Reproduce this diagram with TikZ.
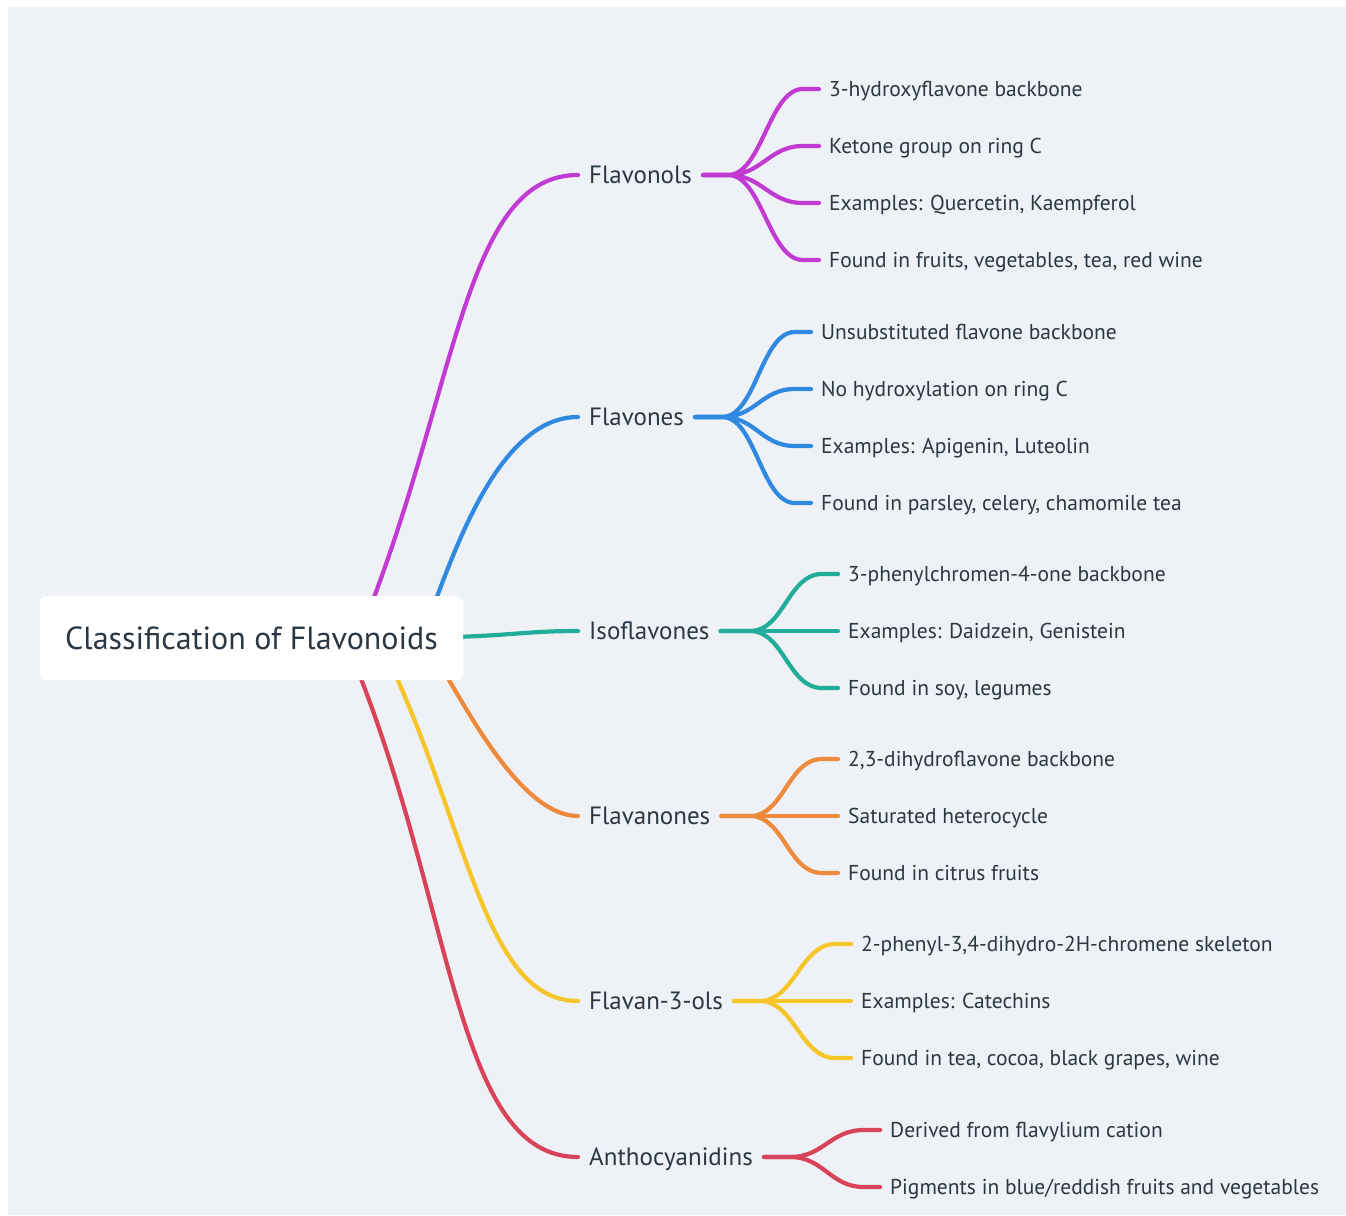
\documentclass[tikz,border=0pt]{standalone}
\usepackage{fontspec}
\setmainfont{PT Sans}
\pgfdeclarelayer{bottom}
\pgfdeclarelayer{lines}
\pgfsetlayers{bottom,lines,main}
\definecolor{bg}{HTML}{EEF2F6}
\definecolor{txt}{HTML}{2B3743}
\definecolor{cM}{HTML}{C13BD2}
\definecolor{cB}{HTML}{3089E0}
\definecolor{cT}{HTML}{20AE9A}
\definecolor{cO}{HTML}{EE8A3C}
\definecolor{cY}{HTML}{F6C52A}
\definecolor{cR}{HTML}{D9435A}
\begin{document}
\begin{tikzpicture}[x=1pt,y=-1pt,
  conn/.style={line width=4.2pt, line cap=round},
  rootbox/.style={fill=white, rounded corners=7pt, minimum width=423pt, minimum height=84pt, inner sep=0pt, text=txt, font=\fontsize{32}{36}\selectfont},
  branch/.style={anchor=west, inner xsep=11pt, inner ysep=0pt, text height=17.5pt, text depth=0pt, text=txt, font=\fontsize{25}{29}\selectfont},
  leaf/.style={anchor=west, inner xsep=10pt, inner ysep=0pt, text height=15pt, text depth=0pt, text=txt, font=\fontsize{21.5}{25}\selectfont},
  fan/.style={to path={-- (#1) .. controls +(34,0) and +(-34,0) .. ([xshift=-16pt]\tikztotarget.west) -- (\tikztotarget.west)}}
]
\useasboundingbox (0,0) rectangle (1346,1215);
\begin{pgfonlayer}{bottom}
\fill[white] (0,0) rectangle (1346,1215);
\fill[bg] (8,7) rectangle (1346,1215);
\end{pgfonlayer}

% root
\node[rootbox] (root) at (251.5,638) {Classification of Flavonoids};

% branches
\node[branch] (fA) at (578,175) {Flavonols};
\node[branch] (fB) at (578,417) {Flavones};
\node[branch] (fC) at (578,631) {Isoflavones};
\node[branch] (fD) at (578,816) {Flavanones};
\node[branch] (fE) at (578,1001) {Flavan-3-ols};
\node[branch] (fF) at (578,1157) {Anthocyanidins};

% leaves
\node[leaf] (a1) at (819,89) {3-hydroxyflavone backbone};
\node[leaf] (a2) at (819,146) {Ketone group on ring C};
\node[leaf] (a3) at (819,203) {Examples: Quercetin, Kaempferol};
\node[leaf] (a4) at (819,260) {Found in fruits, vegetables, tea, red wine};

\node[leaf] (b1) at (811,332) {Unsubstituted flavone backbone};
\node[leaf] (b2) at (811,389) {No hydroxylation on ring C};
\node[leaf] (b3) at (811,446) {Examples: Apigenin, Luteolin};
\node[leaf] (b4) at (811,503) {Found in parsley, celery, chamomile tea};

\node[leaf] (c1) at (838,574) {3-phenylchromen-4-one backbone};
\node[leaf] (c2) at (838,631) {Examples: Daidzein, Genistein};
\node[leaf] (c3) at (838,688) {Found in soy, legumes};

\node[leaf] (d1) at (838,759) {2,3-dihydroflavone backbone};
\node[leaf] (d2) at (838,816) {Saturated heterocycle};
\node[leaf] (d3) at (838,873) {Found in citrus fruits};

\node[leaf] (e1) at (851,944) {2-phenyl-3,4-dihydro-2H-chromene skeleton};
\node[leaf] (e2) at (851,1001) {Examples: Catechins};
\node[leaf] (e3) at (851,1058) {Found in tea, cocoa, black grapes, wine};

\node[leaf] (g1) at (880,1130) {Derived from flavylium cation};
\node[leaf] (g2) at (880,1187) {Pigments in blue/reddish fruits and vegetables};

% hidden start points (behind root box) and junctions
\coordinate (sA) at (373,600);
\coordinate (sB) at (435,602);
\coordinate (sC) at (455,637);
\coordinate (sD) at (446,675);
\coordinate (sE) at (396,676);
\coordinate (sF) at (360,676);
\coordinate (jA) at (728,175);
\coordinate (jB) at (722,417);
\coordinate (jC) at (750,631);
\coordinate (jD) at (750,816);
\coordinate (jE) at (760,1001);
\coordinate (jF) at (790,1157);

\begin{pgfonlayer}{lines}
% root to branches
\draw[conn,cM] (sA) .. controls (458.6,373) and (468,175) .. (fA.west);
\draw[conn,cB] (sB) .. controls (462,530) and (505,417) .. (fB.west);
\draw[conn,cT] (sC) .. controls (515,635) and (530,631) .. (fC.west);
\draw[conn,cO] (sD) .. controls (474,722) and (525,816) .. (fD.west);
\draw[conn,cY] (sE) .. controls (470,842) and (488,1001) .. (fE.west);
\draw[conn,cR] (sF) .. controls (455.6,922) and (458,1157) .. (fF.west);

% branches to leaves
\foreach \l in {a1,a2,a3,a4} \draw[conn,cM] (fA.east) to[fan=jA] (\l);
\foreach \l in {b1,b2,b3,b4} \draw[conn,cB] (fB.east) to[fan=jB] (\l);
\foreach \l in {c1,c2,c3} \draw[conn,cT] (fC.east) to[fan=jC] (\l);
\foreach \l in {d1,d2,d3} \draw[conn,cO] (fD.east) to[fan=jD] (\l);
\foreach \l in {e1,e2,e3} \draw[conn,cY] (fE.east) to[fan=jE] (\l);
\foreach \l in {g1,g2} \draw[conn,cR] (fF.east) to[fan=jF] (\l);
\end{pgfonlayer}
\end{tikzpicture}
\end{document}
